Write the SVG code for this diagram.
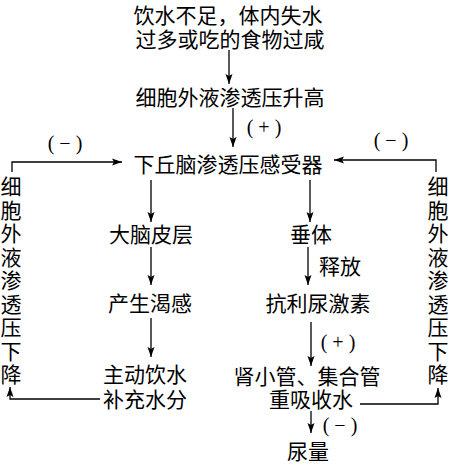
<svg xmlns="http://www.w3.org/2000/svg" width="449" height="464" viewBox="0 0 449 464">
<style>
text{font-family:"Noto Sans CJK SC","Liberation Serif",sans-serif;font-size:21px;fill:#000;text-anchor:middle;dominant-baseline:central}
text.p{font-family:"Liberation Serif","Noto Sans CJK SC",serif;font-size:20px}
.c{fill:none;stroke:#000;stroke-width:1.3}
</style>
<defs>
<marker id="ah" markerUnits="userSpaceOnUse" markerWidth="11" markerHeight="8" refX="10" refY="4" orient="auto">
<path d="M0,0.5 L10,4 L0,7.5 L2,4 z" fill="#000"/>
</marker>
</defs>
<rect width="449" height="464" fill="#fff"/>
<g id="connectors">
<line class="c" x1="229" y1="50" x2="229" y2="84" marker-end="url(#ah)"/>
<line class="c" x1="233" y1="108" x2="233" y2="147" marker-end="url(#ah)"/>
<polyline class="c" points="12,172 12,162 122,162" marker-end="url(#ah)"/>
<polyline class="c" points="436,172 436,160 334,160" marker-end="url(#ah)"/>
<line class="c" x1="151" y1="180" x2="151" y2="222" marker-end="url(#ah)"/>
<line class="c" x1="151" y1="247" x2="151" y2="285" marker-end="url(#ah)"/>
<line class="c" x1="151" y1="318" x2="151" y2="357" marker-end="url(#ah)"/>
<polyline class="c" points="100,399 10,399 10,387" marker-end="url(#ah)"/>
<line class="c" x1="310" y1="180" x2="310" y2="222" marker-end="url(#ah)"/>
<line class="c" x1="308" y1="247" x2="308" y2="285" marker-end="url(#ah)"/>
<line class="c" x1="311" y1="322" x2="311" y2="366" marker-end="url(#ah)"/>
<line class="c" x1="311" y1="411" x2="311" y2="433" marker-end="url(#ah)"/>
<polyline class="c" points="360,404 438,404 438,388" marker-end="url(#ah)"/>
</g>
<g id="labels">
<text class="p" x="264" y="127">( + )</text>
<text class="p" x="65" y="143">( − )</text>
<text class="p" x="391" y="140">( − )</text>
<text x="340" y="265">释放</text>
<text class="p" x="338" y="342">( + )</text>
<text class="p" x="340" y="425">( − )</text>
</g>
<g id="cause"><text x="228" y="14">饮水不足，体内失水</text><text x="230" y="38">过多或吃的食物过咸</text></g>
<g id="osmo-up"><text x="230" y="96">细胞外液渗透压升高</text></g>
<g id="receptor"><text x="228" y="163">下丘脑渗透压感受器</text></g>
<g id="cortex"><text x="151" y="233">大脑皮层</text></g>
<g id="thirst"><text x="150" y="302">产生渴感</text></g>
<g id="drink"><text x="145" y="373">主动饮水</text><text x="145" y="398">补充水分</text></g>
<g id="pituitary"><text x="311" y="233">垂体</text></g>
<g id="adh"><text x="318" y="302">抗利尿激素</text></g>
<g id="kidney"><text x="307" y="375">肾小管、集合管</text><text x="311" y="398">重吸收水</text></g>
<g id="urine"><text x="308" y="450">尿量</text></g>
<g id="osmo-down-left">
<text x="11" y="185">细</text><text x="11" y="208.5">胞</text><text x="11" y="232">外</text><text x="11" y="255.5">液</text><text x="11" y="279">渗</text><text x="11" y="302.5">透</text><text x="11" y="326">压</text><text x="11" y="349.5">下</text><text x="11" y="373">降</text>
</g>
<g id="osmo-down-right">
<text x="438" y="185">细</text><text x="438" y="208.5">胞</text><text x="438" y="232">外</text><text x="438" y="255.5">液</text><text x="438" y="279">渗</text><text x="438" y="302.5">透</text><text x="438" y="326">压</text><text x="438" y="349.5">下</text><text x="438" y="373">降</text>
</g>
</svg>
